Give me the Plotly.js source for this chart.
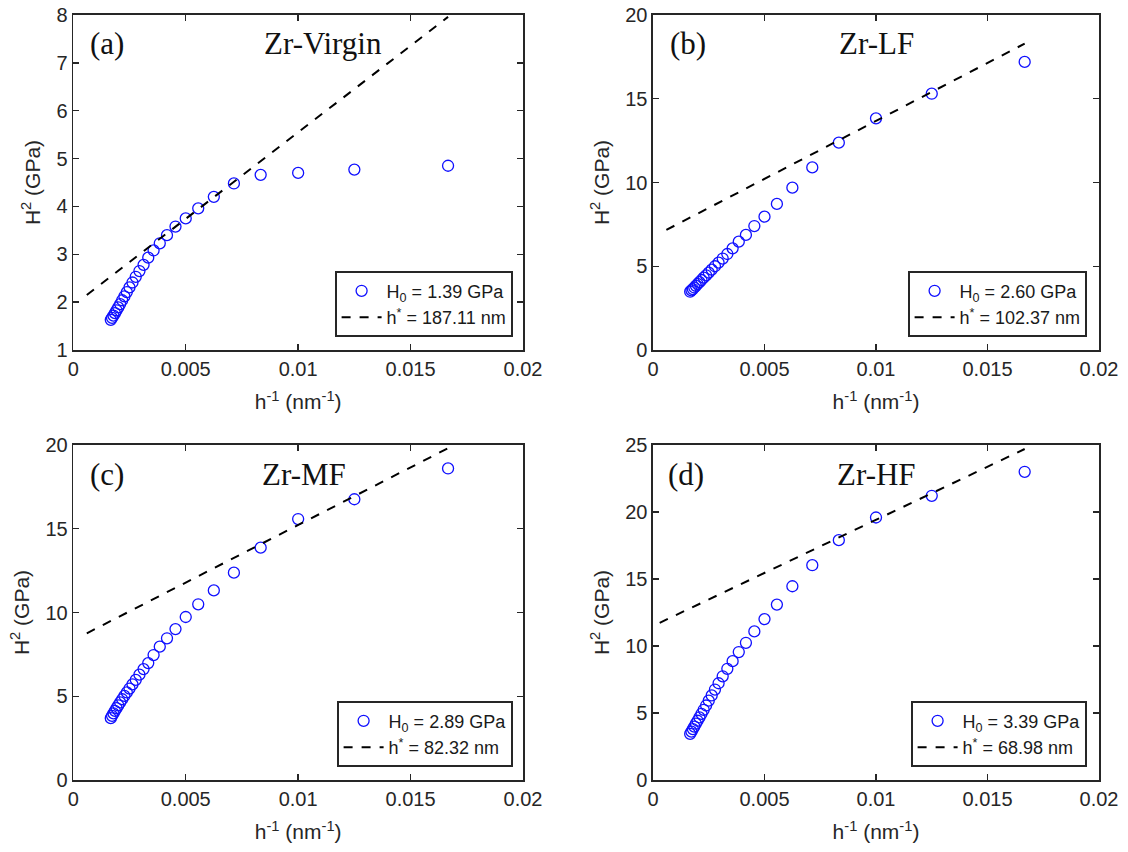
<!DOCTYPE html>
<html>
<head>
<meta charset="utf-8">
<script src="https://cdn.plot.ly/plotly-3.0.1.min.js"></script>
<style>html,body{margin:0;padding:0;background:#fff;}#chart{width:1128px;height:852px;}</style>
</head>
<body>
<div id="chart"></div>
<script>
// inverse indentation depth h^-1 (nm^-1), shared by all panels
const invDepth = [0.016667, 0.0125, 0.01, 0.008333, 0.007143, 0.00625, 0.005556, 0.005, 0.004545, 0.004167,
  0.003846, 0.003571, 0.003333, 0.003125, 0.002941, 0.002778, 0.002632, 0.0025, 0.002381, 0.002273,
  0.002174, 0.002083, 0.002, 0.001923, 0.001852, 0.001786, 0.001724, 0.001667];

// H^2 (GPa) for each sample
const h2Virgin = [4.85, 4.77, 4.70, 4.66, 4.48, 4.20, 3.96, 3.75, 3.58, 3.40,
  3.23, 3.08, 2.93, 2.78, 2.65, 2.53, 2.41, 2.31, 2.21, 2.12,
  2.04, 1.96, 1.89, 1.83, 1.77, 1.72, 1.67, 1.63];
const h2LF = [17.2, 15.3, 13.83, 12.38, 10.9, 9.69, 8.72, 7.96, 7.40, 6.87,
  6.47, 6.07, 5.73, 5.46, 5.22, 5.00, 4.80, 4.62, 4.46, 4.32,
  4.18, 4.05, 3.94, 3.83, 3.73, 3.64, 3.56, 3.48];
const h2MF = [18.6, 16.76, 15.58, 13.87, 12.38, 11.32, 10.49, 9.73, 9.01, 8.46,
  7.96, 7.46, 6.98, 6.62, 6.29, 5.98, 5.71, 5.46, 5.23, 5.02,
  4.82, 4.63, 4.46, 4.29, 4.13, 3.98, 3.83, 3.69];
const h2HF = [23.0, 21.21, 19.59, 17.9, 16.03, 14.46, 13.09, 12.01, 11.09, 10.24,
  9.55, 8.87, 8.30, 7.74, 7.22, 6.75, 6.31, 5.92, 5.56, 5.24,
  4.94, 4.67, 4.42, 4.20, 3.99, 3.80, 3.61, 3.44];

// Nix-Gao fit lines: endpoints
const fitX = [0.0006, 0.016667];
const fitVirgin = [2.15, 7.96];
const fitLF = [7.17, 18.29];
const fitMF = [8.76, 19.81];
const fitHFx = [0.0003, 0.016667];
const fitHF = [11.73, 24.70];

const panelLetters = ['(a)', '(b)', '(c)', '(d)'];
const panelNames = ['Zr-Virgin', 'Zr-LF', 'Zr-MF', 'Zr-HF'];
const h0Labels = ['H<sub>0</sub> = 1.39 GPa', 'H<sub>0</sub> = 2.60 GPa', 'H<sub>0</sub> = 2.89 GPa', 'H<sub>0</sub> = 3.39 GPa'];
const hStarLabels = ['h<sup>*</sup> = 187.11 nm', 'h<sup>*</sup> = 102.37 nm', 'h<sup>*</sup> = 82.32 nm', 'h<sup>*</sup> = 68.98 nm'];

const xTickVals = [0, 0.005, 0.01, 0.015, 0.02];
const xTickText = ['0', '0.005', '0.01', '0.015', '0.02'];
const yRanges = [[1, 8], [0, 20], [0, 20], [0, 25]];
const yDticks = [1, 5, 5, 5];

const dataY = [h2Virgin, h2LF, h2MF, h2HF];
const fitYs = [fitVirgin, fitLF, fitMF, fitHF];
const fitXs = [fitX, fitX, fitX, fitHFx];

const W = 1128, H = 852;
// pixel boxes of the plot areas [left, right, top, bottom]
const boxes = [[73.3, 523, 15, 350], [653, 1099, 15, 350], [73.3, 523, 445, 780], [653, 1099, 445, 780]];
const legendPos = [[513, 337], [1087, 337], [513, 767], [1087, 767]];

const axisColor = '#262626';
const sansFam = 'Liberation Sans, Arial, sans-serif';
const tickFont = {family: sansFam, size: 20, color: axisColor};

const traces = [];
const layout = {
  width: W, height: H,
  margin: {l: 0, r: 0, t: 0, b: 0},
  paper_bgcolor: '#fff', plot_bgcolor: '#fff',
  showlegend: true,
  annotations: [],
  font: {family: sansFam, color: axisColor}
};

for (let i = 0; i < 4; i++) {
  const n = i + 1;
  const xa = 'x' + (n === 1 ? '' : n), ya = 'y' + (n === 1 ? '' : n);
  const legName = n === 1 ? 'legend' : 'legend' + n;
  const b = boxes[i];
  traces.push({
    x: invDepth, y: dataY[i], xaxis: xa, yaxis: ya, type: 'scatter', mode: 'markers',
    name: h0Labels[i], legend: legName,
    marker: {symbol: 'circle-open', size: 11, color: '#1010ff', line: {width: 1.3, color: '#1010ff'}}
  });
  traces.push({
    x: fitXs[i], y: fitYs[i], xaxis: xa, yaxis: ya, type: 'scatter', mode: 'lines',
    name: hStarLabels[i], legend: legName,
    line: {color: '#000', width: 2, dash: 'dash'}
  });
  const axCommon = {
    showgrid: false, zeroline: false, showline: true, linecolor: axisColor, linewidth: 1.6,
    mirror: 'allticks', ticks: 'inside', ticklen: 6, tickwidth: 1.3, tickcolor: axisColor,
    tickfont: tickFont
  };
  layout['xaxis' + (n === 1 ? '' : n)] = Object.assign({}, axCommon, {
    domain: [b[0] / W, b[1] / W], anchor: ya,
    range: [0, 0.02], tickmode: 'array', tickvals: xTickVals, ticktext: xTickText,
    title: {text: 'h<sup>-1</sup> (nm<sup>-1</sup>)', font: {family: sansFam, size: 21, color: axisColor}, standoff: 16}
  });
  layout['yaxis' + (n === 1 ? '' : n)] = Object.assign({}, axCommon, {
    domain: [1 - b[3] / H, 1 - b[2] / H], anchor: xa,
    range: yRanges[i], dtick: yDticks[i], tick0: 0,
    title: {text: 'H<sup>2</sup> (GPa)', font: {family: sansFam, size: 21, color: axisColor}, standoff: 10}
  });
  layout[legName] = {
    x: legendPos[i][0] / W, y: 1 - legendPos[i][1] / H, xanchor: 'right', yanchor: 'bottom',
    xref: 'paper', yref: 'paper',
    bgcolor: '#fff', bordercolor: axisColor, borderwidth: 1.6,
    font: {family: sansFam, size: 18, color: '#1a1a1a'},
    itemwidth: 40, tracegroupgap: 0
  };
  layout.annotations.push({
    xref: xa + ' domain', yref: ya + ' domain', x: [0.075, 0.078, 0.075, 0.074][i], y: 1 - 29 / 335,
    text: panelLetters[i], showarrow: false, xanchor: 'center', yanchor: 'middle',
    font: {family: 'Liberation Serif, Times New Roman, serif', size: 31, color: '#111'}
  });
  layout.annotations.push({
    xref: xa + ' domain', yref: ya + ' domain', x: [0.555, 0.502, 0.513, 0.502][i], y: 1 - 29 / 335,
    text: panelNames[i], showarrow: false, xanchor: 'center', yanchor: 'middle',
    font: {family: 'Liberation Serif, Times New Roman, serif', size: 31, color: '#111'}
  });
}

Plotly.newPlot('chart', traces, layout, {displayModeBar: false, staticPlot: true});
</script>
</body>
</html>
